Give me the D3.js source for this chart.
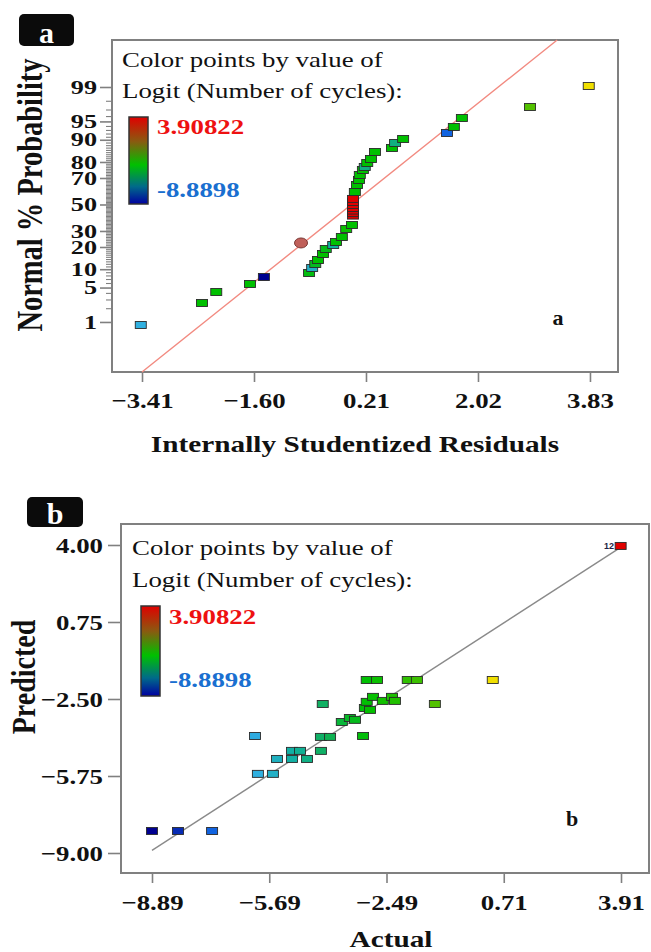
<!DOCTYPE html>
<html><head><meta charset="utf-8">
<script src="https://cdn.jsdelivr.net/npm/d3@7"></script>
<style>body{margin:0;background:#fff}svg{display:block}</style>
</head><body><svg id="c" width="651" height="952"></svg>
<script>
// ---------- Panel a : normal probability plot of residuals ----------
const residA = [-3.43,-2.44,-2.21,-1.665,-1.44,-0.71,-0.66,-0.61,-0.566,-0.485,-0.44,-0.32,-0.275,-0.18,-0.11,-0.016,
  0,0,0,0,0,0,0,
  0.03,0.065,0.097,0.11,0.16,0.19,0.23,0.29,0.355,0.63,0.68,0.81,1.52,1.63,1.76,2.86,3.81];
const normZA = [-2.386,-1.95,-1.733,-1.574,-1.436,-1.356,-1.257,-1.178,-1.099,-0.98,-0.881,-0.802,-0.743,-0.644,-0.485,-0.406,
  -0.22,-0.17,-0.12,-0.07,-0.01,0.05,0.11,
  0.248,0.386,0.485,0.584,0.683,0.743,0.822,0.90,1.04,1.119,1.218,1.297,1.416,1.535,1.713,1.931,2.347];
const logitA = [-6.0,-3.0,-3.0,-3.0,-8.89,-3.2,-5.6,-3.4,-3.0,-3.0,-3.3,-5.0,-3.0,-3.0,-2.8,-3.0,
  3.9,3.9,3.9,3.9,3.9,3.9,3.9,
  -3.0,-3.0,-3.0,-3.0,-3.0,-4.6,-3.0,-3.0,-3.0,-3.0,-4.6,-3.0,-7.25,-3.0,-3.0,-1.17,0.41];
const markedResidA = [-0.84];
const markedZA = [-0.762];
const probTicks = [1,5,10,20,30,50,70,80,90,95,99];
const xTicksA = [-3.41,-1.60,0.21,2.02,3.83];
const refLineA = {x:[-3.41,3.30], z:[-3.317,3.257]};

// ---------- Panel b : predicted vs actual ----------
const actualB = [-8.89,-8.18,-7.25,-6.08,-6.00,-5.59,-5.48,-5.07,-4.66,-5.07,-4.85,-4.28,-4.28,-4.03,-4.23,-3.71,-3.49,-3.35,-3.13,-3.08,-2.94,-3.03,-2.86,-2.59,-2.34,-2.26,-3.03,-2.75,-1.91,-1.66,-1.17,0.41,3.90];
const predictedB = [-8.07,-8.07,-8.07,-4.06,-5.66,-5.66,-5.03,-5.03,-5.03,-4.69,-4.69,-4.69,-4.10,-4.10,-2.71,-3.47,-3.30,-3.38,-4.06,-2.88,-2.96,-2.62,-2.41,-2.58,-2.41,-2.58,-1.70,-1.70,-1.70,-1.70,-2.71,-1.70,3.96];
const runLabelsB = ["","","","","","","","","","","","","","","","","","","","","","","","","","","","","","","","","12"];
const xTicksB = [-8.89,-5.69,-2.49,0.71,3.91];
const yTicksB = [4.00,0.75,-2.50,-5.75,-9.00];
const refLineB = [-8.89,3.91];

// colour legend
const colorMin = -8.8898, colorMax = 3.90822;
const colorStops = [-8.89,-7.3,-6.0,-5.0,-4.2,-3.0,-1.2,0.4,3.91];
const colorRange = ["#000090","#1060e0","#30b0e0","#10b0a0","#10b060","#00c000","#50c000","#f0e000","#e00000"];
const legendLines = ["Color points by value of","Logit (Number of cycles):"];

// ---------------------------------------------------------------
function probit(p){
 const a=[-3.969683028665376e+01,2.209460984245205e+02,-2.759285104469687e+02,1.383577518672690e+02,-3.066479806614716e+01,2.506628277459239e+00];
 const b=[-5.447609879822406e+01,1.615858368580409e+02,-1.556989798598866e+02,6.680131188771972e+01,-1.328068155288572e+01];
 const c=[-7.784894002430293e-03,-3.223964580411365e-01,-2.400758277161838e+00,-2.549732539343734e+00,4.374664141464968e+00,2.938163982698783e+00];
 const d=[7.784695709041462e-03,3.224671290700398e-01,2.445134137142996e+00,3.754408661907416e+00];
 const pl=0.02425, ph=1-pl; let q,r;
 if(p<pl){q=Math.sqrt(-2*Math.log(p));return (((((c[0]*q+c[1])*q+c[2])*q+c[3])*q+c[4])*q+c[5])/((((d[0]*q+d[1])*q+d[2])*q+d[3])*q+1);}
 if(p<=ph){q=p-0.5;r=q*q;return (((((a[0]*r+a[1])*r+a[2])*r+a[3])*r+a[4])*r+a[5])*q/(((((b[0]*r+b[1])*r+b[2])*r+b[3])*r+b[4])*r+1);}
 q=Math.sqrt(-2*Math.log(1-p));return -(((((c[0]*q+c[1])*q+c[2])*q+c[3])*q+c[4])*q+c[5])/((((d[0]*q+d[1])*q+d[2])*q+d[3])*q+1);
}

const SX = 1.22;           // horizontal stretch of the original figure
const SERIF = "'Liberation Serif','Times New Roman',serif";
const svg = d3.select("#c");
const colorScale = d3.scaleLinear().domain(colorStops).range(colorRange);

function txt(g, x, y, s, o={}){
  return g.append("text")
    .attr("transform", `translate(${x},${y}) scale(${o.sx||SX},1)` + (o.rot?` rotate(${o.rot})`:""))
    .attr("font-family", SERIF)
    .attr("font-size", o.size||22)
    .attr("font-weight", o.bold?"bold":"normal")
    .attr("text-anchor", o.anchor||"start")
    .attr("fill", o.fill||"#111")
    .text(s);
}
function styleAxis(g, size=22, sx=SX){
  g.select(".domain").remove();
  g.selectAll(".tick line").attr("stroke","#808080").attr("stroke-width",1.6);
  g.selectAll(".tick text").each(function(){
    const t = d3.select(this);
    const x = +t.attr("x") || 0;
    t.attr("x", x/sx).attr("transform", `scale(${sx},1)`)
     .attr("font-family", SERIF).attr("font-size", size).attr("font-weight","bold").attr("fill","#111");
  });
}
function tag(x, y, w, h, s){
  svg.append("rect").attr("x",x).attr("y",y).attr("width",w).attr("height",h).attr("rx",5).attr("fill","#0b0b0b");
  svg.append("text").attr("x",x+w/2).attr("y",y+h-3).attr("text-anchor","middle")
    .attr("font-family",SERIF).attr("font-size",30).attr("font-weight","bold").attr("fill","#fff").text(s);
}
function legend(x0, yl1, yl2, bx, by, bw, bh, lx, ly1, ly2, gid){
  txt(svg, x0, yl1, legendLines[0], {size:22});
  txt(svg, x0, yl2, legendLines[1], {size:22});
  const grad = svg.append("defs").append("linearGradient").attr("id",gid)
    .attr("x1",0).attr("y1",0).attr("x2",0).attr("y2",1);
  [["0%","#e00000"],["28%","#8a5a10"],["55%","#00c000"],["80%","#006a8a"],["100%","#0000a0"]]
    .forEach(s=>grad.append("stop").attr("offset",s[0]).attr("stop-color",s[1]));
  svg.append("rect").attr("x",bx).attr("y",by).attr("width",bw).attr("height",bh)
    .attr("fill",`url(#${gid})`).attr("stroke","#333").attr("stroke-width",1.5);
  txt(svg, lx, ly1, String(colorMax), {size:22, bold:true, fill:"#ee1111"});
  txt(svg, lx, ly2, String(colorMin), {size:22, bold:true, fill:"#1a6fd0"});
}
const RW = 11, RH = 7;

// ================= Panel a =================
{
  const L=112, R=618, T=40, B=372;
  const x = d3.scaleLinear().domain([-3.895, 4.283]).range([L,R]);
  const y = d3.scaleLinear().domain([-3.317, 3.257]).range([B,T]);
  const g = svg.append("g");

  // minor ticks
  const minor = d3.range(1,100).filter(p=>!probTicks.includes(p)).map(p=>probit(p/100));
  const gm = g.append("g").attr("transform",`translate(${L},0)`)
    .call(d3.axisLeft(y).tickValues(minor).tickSize(6).tickFormat(""));
  styleAxis(gm); gm.selectAll(".tick line").attr("stroke-width",1.1);
  const gy = g.append("g").attr("transform",`translate(${L},0)`)
    .call(d3.axisLeft(y).tickValues(probTicks.map(p=>probit(p/100))).tickSize(12).tickPadding(3)
      .tickFormat((d,i)=>probTicks[i]));
  styleAxis(gy, 19, 1.38);
  const gx = g.append("g").attr("transform",`translate(0,${B})`)
    .call(d3.axisBottom(x).tickValues(xTicksA).tickSize(10).tickPadding(10).tickFormat(d3.format(".2f")));
  styleAxis(gx);

  g.append("rect").attr("x",L).attr("y",T).attr("width",R-L).attr("height",B-T)
    .attr("fill","none").attr("stroke","#808080").attr("stroke-width",2);

  g.append("line").attr("x1",x(refLineA.x[0])).attr("y1",y(refLineA.z[0]))
    .attr("x2",x(refLineA.x[1])).attr("y2",y(refLineA.z[1]))
    .attr("stroke","#f28a80").attr("stroke-width",1.4);

  legend(122, 67, 98, 129, 117, 19, 87, 157, 134, 197, "gA");

  g.selectAll("rect.pt").data(residA.map((r,i)=>({r, z:normZA[i], c:logitA[i]}))).join("rect")
    .attr("class","pt").attr("x",d=>x(d.r)-RW/2).attr("y",d=>y(d.z)-RH/2)
    .attr("width",RW).attr("height",RH).attr("fill",d=>colorScale(d.c))
    .attr("stroke","#2a2a2a").attr("stroke-width",0.9);
  g.selectAll("ellipse.mk").data(markedResidA.map((r,i)=>({r, z:markedZA[i]}))).join("ellipse")
    .attr("class","mk").attr("cx",d=>x(d.r)).attr("cy",d=>y(d.z)).attr("rx",6.5).attr("ry",5)
    .attr("fill","#c0605a").attr("stroke","#7a3a36").attr("stroke-width",1);

  txt(g, 558, 325, "a", {size:22, bold:true, anchor:"middle", sx:1});
  txt(g, 42, 195, "Normal % Probability", {size:28.5, bold:true, anchor:"middle", rot:-90});
  txt(g, 355, 452, "Internally Studentized Residuals", {size:24, bold:true, anchor:"middle"});
  tag(19, 14, 55, 32, "a");
}

// ================= Panel b =================
{
  const L=121, R=649, T=524, B=873;
  const x = d3.scaleLinear().domain([-9.736, 4.674]).range([L,R]);
  const y = d3.scaleLinear().domain([-9.844, 4.886]).range([B,T]);
  const g = svg.append("g");

  const gy = g.append("g").attr("transform",`translate(${L},0)`)
    .call(d3.axisLeft(y).tickValues(yTicksB).tickSize(13).tickPadding(5).tickFormat(d3.format(".2f")));
  styleAxis(gy);
  const gx = g.append("g").attr("transform",`translate(0,${B})`)
    .call(d3.axisBottom(x).tickValues(xTicksB).tickSize(10).tickPadding(11).tickFormat(d3.format(".2f")));
  styleAxis(gx);

  g.append("rect").attr("x",L).attr("y",T).attr("width",R-L).attr("height",B-T)
    .attr("fill","none").attr("stroke","#808080").attr("stroke-width",2);

  g.append("line").attr("x1",x(refLineB[0])).attr("y1",y(refLineB[0]))
    .attr("x2",x(refLineB[1])).attr("y2",y(refLineB[1]))
    .attr("stroke","#8a8a8a").attr("stroke-width",1.4);

  legend(132, 555, 587, 141, 606, 19, 90, 169, 624, 687, "gB");

  const pts = actualB.map((a,i)=>({a, p:predictedB[i], lab:runLabelsB[i]}));
  g.selectAll("rect.pt").data(pts).join("rect")
    .attr("class","pt").attr("x",d=>x(d.a)-RW/2).attr("y",d=>y(d.p)-RH/2)
    .attr("width",RW).attr("height",RH).attr("fill",d=>colorScale(d.a))
    .attr("stroke","#2a2a2a").attr("stroke-width",0.9);
  g.selectAll("text.lab").data(pts.filter(d=>d.lab)).join("text")
    .attr("class","lab").attr("x",d=>x(d.a)-RW/2-1).attr("y",d=>y(d.p)+3)
    .attr("text-anchor","end").attr("font-family","'Liberation Sans',Arial,sans-serif")
    .attr("font-size",9).attr("font-weight","bold").attr("fill","#222244").text(d=>d.lab);

  txt(g, 572, 826, "b", {size:22, bold:true, anchor:"middle", sx:1});
  txt(g, 35, 677, "Predicted", {size:28, bold:true, anchor:"middle", rot:-90});
  txt(g, 391, 947, "Actual", {size:24, bold:true, anchor:"middle"});
  tag(27, 497, 56, 30, "b");
}
</script></body></html>
